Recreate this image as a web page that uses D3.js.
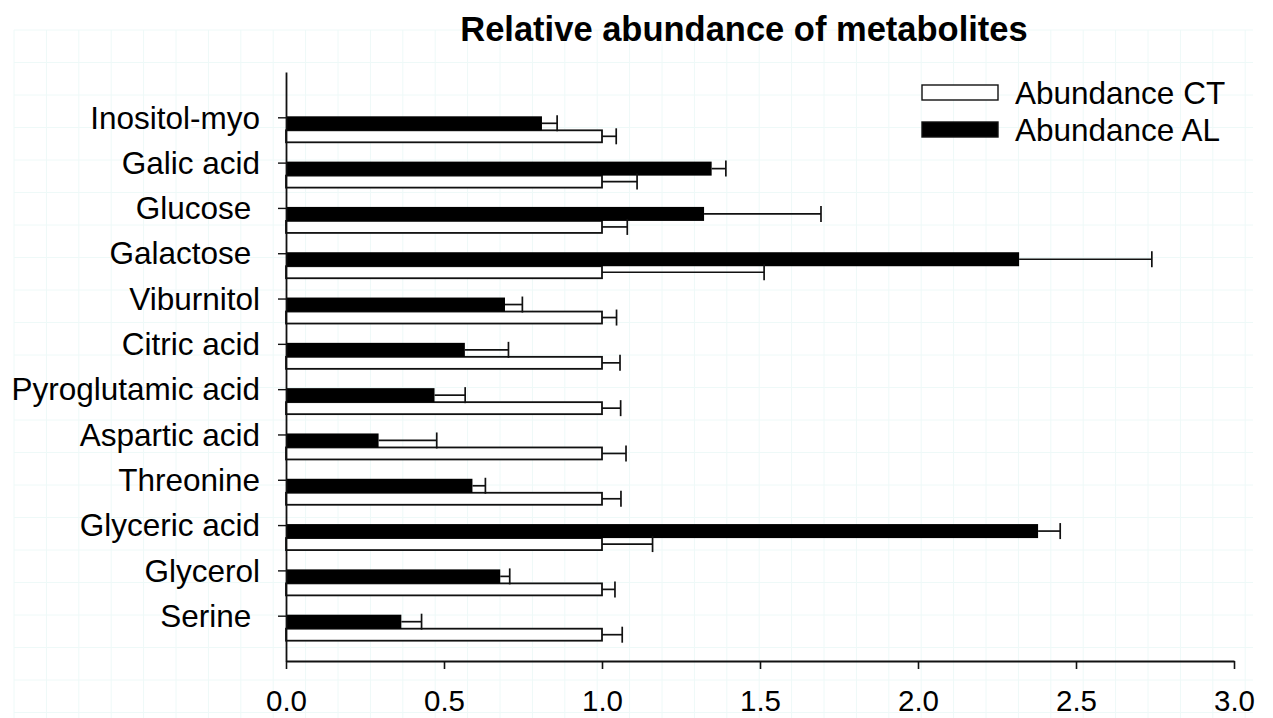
<!DOCTYPE html>
<html>
<head>
<meta charset="utf-8">
<script src="https://cdn.jsdelivr.net/npm/d3@7"></script>
<style>
  body { margin: 0; background: #fff; }
  svg { display: block; font-family: "Liberation Sans", Arial, sans-serif; }
  .y-axis text { white-space: pre; }
</style>
</head>
<body>
<svg></svg>
<script>
// metabolites, top to bottom
var metabolites = ["Inositol-myo", "Galic acid", "Glucose ", "Galactose ", "Viburnitol",
  "Citric acid", "Pyroglutamic acid", "Aspartic acid", "Threonine", "Glyceric acid",
  "Glycerol", "Serine "];
var abundanceCT = [1, 1, 1, 1, 1, 1, 1, 1, 1, 1, 1, 1];
var errorCT = [0.045, 0.111, 0.08, 0.513, 0.046, 0.057, 0.059, 0.076, 0.06, 0.16, 0.041, 0.064];
var abundanceAL = [0.81, 1.347, 1.323, 2.32, 0.693, 0.566, 0.47, 0.293, 0.59, 2.38, 0.678, 0.365];
var errorAL = [0.048, 0.045, 0.37, 0.42, 0.055, 0.138, 0.097, 0.184, 0.041, 0.07, 0.03, 0.064];
var xTicks = [0, 0.5, 1, 1.5, 2, 2.5, 3];
var seriesNames = ["Abundance CT", "Abundance AL"];

var width = 1273;
var height = 718;
var plotLeft = 286, plotRight = 1234, plotTop = 72, plotBottom = 661;

var svg = d3.select('svg')
    .attr('width', width)
    .attr('height', height);

// faint background grid
var grid = svg.append('g').attr('stroke', '#eef9f8').attr('stroke-width', 1);
d3.range(14, 1256, 32.4).forEach(function(gx){
  grid.append('line').attr('x1', gx).attr('x2', gx).attr('y1', 30).attr('y2', height);
});
d3.range(30, height, 32.5).forEach(function(gy){
  grid.append('line').attr('x1', 14).attr('x2', 1253).attr('y1', gy).attr('y2', gy);
});

var x = d3.scaleLinear()
    .domain([0, 3])
    .range([plotLeft, plotRight]);

var y = d3.scalePoint()
    .domain(metabolites)
    .range([plotTop, plotBottom])
    .padding(1);

var rows = metabolites.map(function(m, i){
  return {name: m, ct: abundanceCT[i], ctErr: errorCT[i], al: abundanceAL[i], alErr: errorAL[i]};
});

var barH = 13;

// white bars (CT)
svg.append('g').selectAll('rect')
  .data(rows)
  .enter()
  .append('rect')
    .attr('x', x(0))
    .attr('y', d => y(d.name) + barH)
    .attr('width', d => x(d.ct) - x(0))
    .attr('height', barH - 1)
    .attr('fill', '#fff')
    .attr('stroke', '#111')
    .attr('stroke-width', 1.8);

// black bars (AL)
svg.append('g').selectAll('rect')
  .data(rows)
  .enter()
  .append('rect')
    .attr('x', x(0))
    .attr('y', d => y(d.name) - 1)
    .attr('width', d => x(d.al) - x(0))
    .attr('height', barH + 1)
    .attr('fill', '#000');

// error bars
function errorBars(cls, val, err, offset){
  var g = svg.append('g').attr('class', cls)
      .attr('stroke', '#111').attr('stroke-width', 1.7).attr('fill', 'none');
  g.selectAll('.stem')
    .data(rows)
    .enter()
    .append('line')
      .attr('x1', d => x(d[val]))
      .attr('x2', d => x(d[val] + d[err]))
      .attr('y1', d => y(d.name) + offset)
      .attr('y2', d => y(d.name) + offset);
  g.selectAll('.cap')
    .data(rows)
    .enter()
    .append('line')
      .attr('x1', d => x(d[val] + d[err]))
      .attr('x2', d => x(d[val] + d[err]))
      .attr('y1', d => y(d.name) + offset - 8)
      .attr('y2', d => y(d.name) + offset + 8);
}
errorBars('err-al', 'al', 'alErr', 6);
errorBars('err-ct', 'ct', 'ctErr', 19);

// axes
var xAxis = svg.append('g')
    .attr('transform', 'translate(0,' + plotBottom + ')')
    .call(d3.axisBottom(x).tickValues(xTicks).tickFormat(d3.format('.1f')).tickSize(8).tickPadding(21).tickSizeOuter(0));
xAxis.select('.domain').attr('stroke', '#111').attr('stroke-width', 1.8);
xAxis.selectAll('.tick line').attr('stroke', '#111').attr('stroke-width', 1.6);
xAxis.selectAll('text').attr('font-size', 29.5).attr('fill', '#000');

var yAxis = svg.append('g')
    .attr('class', 'y-axis')
    .attr('transform', 'translate(' + plotLeft + ',0)')
    .call(d3.axisLeft(y).tickSize(8).tickPadding(18).tickSizeOuter(0));
yAxis.select('.domain').attr('stroke', '#111').attr('stroke-width', 1.8);
yAxis.selectAll('.tick line').attr('stroke', '#111').attr('stroke-width', 1.4);
yAxis.selectAll('text').attr('font-size', 31.5).attr('fill', '#000').attr('dy', '0.34em');

// title
svg.append('text')
    .attr('x', 744)
    .attr('y', 41)
    .attr('text-anchor', 'middle')
    .attr('font-size', 34.5)
    .attr('font-weight', 'bold')
    .text('Relative abundance of metabolites');

// legend
var legend = svg.append('g').attr('transform', 'translate(922,85)');
seriesNames.forEach(function(name, i){
  legend.append('rect')
      .attr('x', 0)
      .attr('y', i * 37)
      .attr('width', 76)
      .attr('height', 15)
      .attr('fill', i === 0 ? '#fff' : '#000')
      .attr('stroke', '#111')
      .attr('stroke-width', 1.4);
  legend.append('text')
      .attr('x', 93)
      .attr('y', i * 37 + 8)
      .attr('dy', '0.35em')
      .attr('font-size', 31.5)
      .text(name);
});
</script>
</body>
</html>
